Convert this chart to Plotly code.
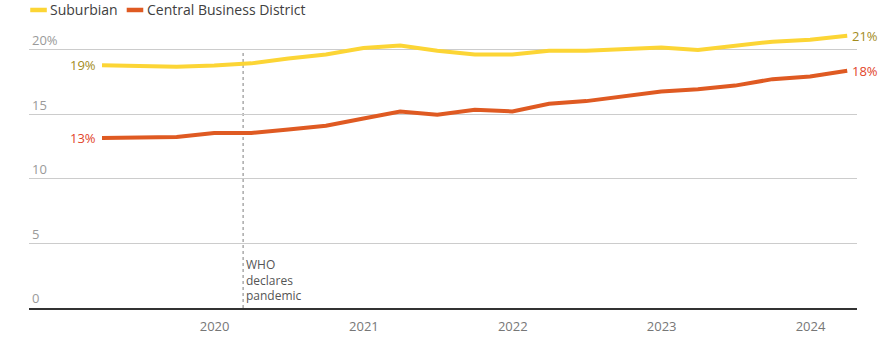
import plotly.graph_objects as go

# Quarterly office vacancy rate, %
quarters = [
    "2019-03-31", "2019-06-30", "2019-09-30", "2019-12-31",
    "2020-03-31", "2020-06-30", "2020-09-30", "2020-12-31",
    "2021-03-31", "2021-06-30", "2021-09-30", "2021-12-31",
    "2022-03-31", "2022-06-30", "2022-09-30", "2022-12-31",
    "2023-03-31", "2023-06-30", "2023-09-30", "2023-12-31",
    "2024-03-31",
]
suburbian = [18.77, 18.75, 18.66, 18.75, 18.92, 19.3, 19.6, 20.1, 20.3, 19.9,
             19.6, 19.6, 19.9, 19.9, 20.0, 20.15, 19.95, 20.3, 20.6, 20.75, 21.05]
cbd = [13.15, 13.2, 13.22, 13.54, 13.54, 13.8, 14.1, 14.65, 15.2, 14.95,
       15.33, 15.2, 15.8, 16.0, 16.4, 16.74, 16.92, 17.2, 17.7, 17.9, 18.35]

series_names = ["Suburbian", "Central Business District"]
line_colors = ["#fcd535", "#df5a22"]
label_colors = ["#a38c1c", "#e2452a"]

y_ticks = [0, 5, 10, 15, 20]
y_tick_text = ["0", "5", "10", "15", "20%"]
x_ticks = ["2020-01-01", "2021-01-01", "2022-01-01", "2023-01-01", "2024-01-01"]
x_tick_text = ["2020", "2021", "2022", "2023", "2024"]

event_date = "2020-03-11"
event_text = "WHO<br>declares<br>pandemic"

FONT = "Open Sans"

fig = go.Figure()
for name, vals, col in zip(series_names, [suburbian, cbd], line_colors):
    fig.add_trace(go.Scatter(
        x=quarters, y=vals, name=name, mode="lines",
        line=dict(color=col, width=4, shape="linear"),
        showlegend=False, hoverinfo="skip",
    ))

annotations = []
for vals, col in zip([suburbian, cbd], label_colors):
    annotations.append(dict(
        x=quarters[0], y=vals[0], text=f"{round(vals[0])}%",
        xanchor="right", yanchor="middle", xshift=-4, showarrow=False,
        font=dict(family=FONT, size=13, color=col),
    ))
    annotations.append(dict(
        x=quarters[-1], y=vals[-1], text=f"{round(vals[-1])}%",
        xanchor="left", yanchor="middle", xshift=3, showarrow=False,
        font=dict(family=FONT, size=13, color=col),
    ))

# event marker
annotations.append(dict(
    x=event_date, y=0, text=event_text, align="left",
    xanchor="left", yanchor="bottom", xshift=1, yshift=2, showarrow=False,
    font=dict(family=FONT, size=12, color="#555555"),
))

shapes = [dict(
    type="line", xref="x", yref="y", x0=event_date, x1=event_date, y0=0, y1=20,
    line=dict(color="#aaaaaa", width=1.5, dash="dot"), layer="below",
)]

# legend drawn as short swatches with labels above the plot
legend_x = [0.0015, 0.118]
for lx, name, col in zip(legend_x, series_names, line_colors):
    shapes.append(dict(
        type="line", xref="paper", yref="paper", x0=lx, x1=lx + 0.02,
        y0=1.072, y1=1.072, line=dict(color=col, width=4.5),
    ))
    annotations.append(dict(
        x=lx + 0.022, y=1.072, xref="paper", yref="paper", text=name,
        xanchor="left", yanchor="middle", showarrow=False,
        font=dict(family=FONT, size=14, color="#404040"),
    ))

fig.update_layout(
    width=879, height=337,
    margin=dict(l=29, r=22, t=30, b=28.5),
    paper_bgcolor="white", plot_bgcolor="white",
    font=dict(family=FONT),
    annotations=annotations, shapes=shapes,
    showlegend=False,
)
fig.update_xaxes(
    type="date", range=["2018-10-03", "2024-04-24"],
    tickvals=x_ticks, ticktext=x_tick_text, automargin=False,
    showgrid=False, showline=True, linecolor="#333333", linewidth=1.5,
    ticks="outside", ticklen=6, tickcolor="rgba(0,0,0,0)",
    tickfont=dict(family=FONT, size=13, color="#777777"),
)
fig.update_yaxes(
    range=[0, 21.5], tickvals=y_ticks, ticktext=y_tick_text, automargin=False,
    showgrid=True, gridcolor="#cccccc", gridwidth=1, zeroline=False,
    ticklabelposition="inside top",
    tickfont=dict(family=FONT, size=13, color="#9a9a9a"),
)

fig.write_html("out.html")
